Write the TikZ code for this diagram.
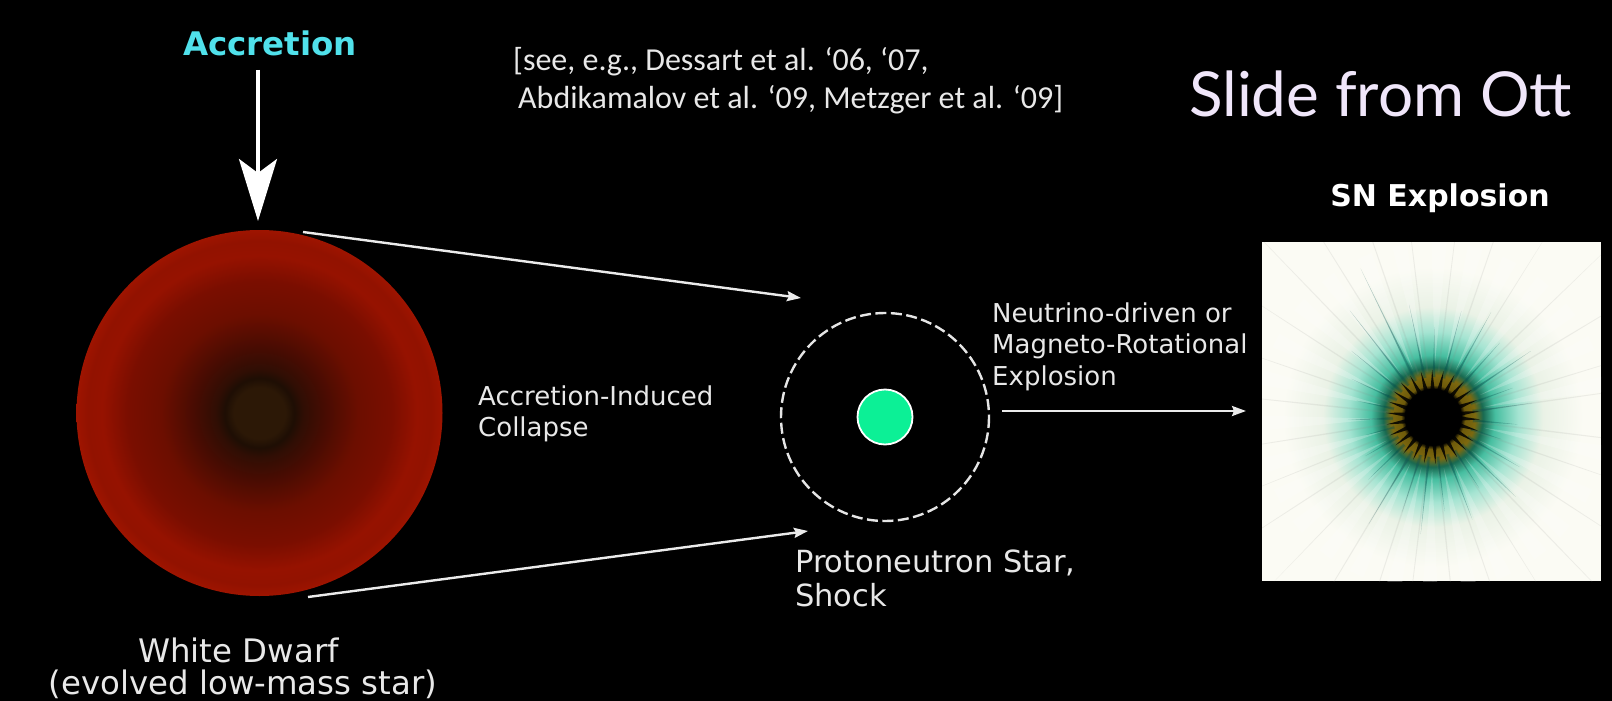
\documentclass[tikz,border=0pt]{standalone}
\usepackage{fontspec}
\setmainfont{DejaVu Sans}
\newfontfamily\citefont{Carlito}
\newfontfamily\slidefont{Lato}
\usetikzlibrary{arrows.meta,calc}

\definecolor{accretioncyan}{RGB}{80,225,235}
\definecolor{slidelilac}{RGB}{240,230,250}
\definecolor{labelgray}{RGB}{232,232,232}
\definecolor{pnsgreen}{RGB}{12,240,150}
\definecolor{snpaper}{RGB}{251,251,244}

% white dwarf rings
\definecolor{wd_a}{RGB}{44,24,6}
\definecolor{wd_b}{RGB}{30,14,4}
\definecolor{wd_c}{RGB}{48,14,4}
\definecolor{wd_d}{RGB}{72,12,2}
\definecolor{wd_e}{RGB}{108,14,0}
\definecolor{wd_f}{RGB}{122,14,0}
\definecolor{wd_g}{RGB}{150,18,0}
\definecolor{wd_h}{RGB}{146,18,0}
\definecolor{wd_i}{RGB}{158,20,0}
% supernova glow
\definecolor{sn_a}{RGB}{110,90,10}
\definecolor{sn_b}{RGB}{125,105,15}
\definecolor{sn_c}{RGB}{25,105,80}
\definecolor{sn_d}{RGB}{70,190,160}
\definecolor{sn_e}{RGB}{165,228,210}
\definecolor{sn_f}{RGB}{234,242,230}

\pgfdeclareradialshading{wdshade}{\pgfpointorigin}{
  color(0bp)=(wd_a);
  color(3.5bp)=(wd_a);
  color(4.75bp)=(wd_b);
  color(6bp)=(wd_c);
  color(9bp)=(wd_d);
  color(13.5bp)=(wd_e);
  color(18bp)=(wd_f);
  color(21.5bp)=(wd_g);
  color(23.5bp)=(wd_h);
  color(25bp)=(wd_i);
  color(50bp)=(wd_i)}
\pgfdeclareradialshading{snshade}{\pgfpointorigin}{
  color(0bp)=(black);
  color(4.27bp)=(black);
  color(4.9bp)=(sn_a);
  color(6.4bp)=(sn_b);
  color(7.6bp)=(sn_c);
  color(9.45bp)=(sn_d);
  color(13bp)=(sn_e);
  color(16.8bp)=(sn_f);
  color(22.9bp)=(snpaper);
  color(50bp)=(snpaper)}

\tikzset{
  label text/.style={text=labelgray,font=\fontsize{26}{26}\selectfont,anchor=west,inner sep=0},
  name text/.style={text=labelgray,font=\fontsize{32.4}{32.4}\selectfont,inner sep=0},
  pns text/.style={text=labelgray,font=\fontsize{30.5}{30.5}\selectfont,anchor=west,inner sep=0},
  cite text/.style={text=labelgray,font=\citefont\fontsize{32}{32}\selectfont,anchor=west,inner sep=0},
  big arrow/.style={draw=white,line width=3.6pt,-{Stealth[length=62pt,width=38pt,inset=14pt]}},
  thin arrow/.style={draw=white!92!black,line width=2.4pt,-{Stealth[length=14pt,width=10pt,inset=2pt]}},
}

\begin{document}
\begin{tikzpicture}[x=1pt,y=-1pt]
	\fill [black] (0,0) rectangle (1612,701);
	\useasboundingbox (0,0) rectangle (1612,701);

	% white dwarf
	\coordinate (wd_center) at (259.5,413);
	\shade [shading=wdshade] (wd_center) circle (183);
	\node [name text] (wd_name) at (238.5,650) {White Dwarf};
	\node [name text] (wd_note) at (243,684) {(evolved low-mass star)};

	% accretion
	\node [text=accretioncyan,font=\bfseries\fontsize{32.5}{32.5}\selectfont,inner sep=0] (accretion) at (270,43) {Accretion};
	\coordinate (acc_a) at (258,70);
	\coordinate (acc_b) at (258,221);
	\draw [big arrow] (acc_a) -- (acc_b);

	% references and slide credit
	\node [cite text] (cite_a) at (513,62) {[see, e.g., Dessart et al. ‘06, ‘07,};
	\node [cite text] (cite_b) at (518,100) {Abdikamalov et al. ‘09, Metzger et al. ‘09]};
	\node [text=slidelilac,font=\slidefont\fontsize{62}{62}\selectfont,anchor=west,inner sep=0] (credit) at (1189,94) {Slide from Ott};

	% collapse arrows
	\coordinate (top_a) at (303,232);
	\coordinate (top_b) at (801,298);
	\coordinate (bot_a) at (308,597);
	\coordinate (bot_b) at (808,531);
	\draw [thin arrow] (top_a) -- (top_b);
	\draw [thin arrow] (bot_a) -- (bot_b);
	\node [label text] (collapse_a) at (478,396) {Accretion-Induced};
	\node [label text] (collapse_b) at (478,429) {Collapse};

	% protoneutron star and shock
	\coordinate (pns_center) at (885,417);
	\draw [draw=white!90!black,line width=2.4pt,dash pattern=on 11pt off 4.5pt] (pns_center) circle (104);
	\fill [pnsgreen,draw=white,line width=1.8pt] (pns_center) circle (27.5);
	\node [pns text] (pns_a) at (795,563) {Protoneutron Star,};
	\node [pns text] (pns_b) at (795,595) {Shock};

	% explosion arrow
	\coordinate (exp_a) at (1002,411);
	\coordinate (exp_b) at (1246,411);
	\draw [thin arrow] (exp_a) -- (exp_b);
	\node [label text] (exp_l1) at (992,313) {Neutrino-driven or};
	\node [label text] (exp_l2) at (992,346) {Magneto-Rotational};
	\node [label text] (exp_l3) at (992,378) {Explosion};

	% supernova panel
	\node [text=white,font=\bfseries\fontsize{30}{30}\selectfont,inner sep=0] (sn_name) at (1440,198) {SN Explosion};
	\fill [snpaper] (1262,242) rectangle (1601,581);
	\begin{scope}
		\clip (1262,242) rectangle (1601,581);
		\coordinate (sn_center) at (1433,417);
		\shade [shading=snshade] (sn_center) circle (164);
		% light streaks widening outward
		\foreach \a in {12,27,41,52,66,78,91,103,116,128,141,153,164,178,193,206,220,233,247,259,272,284,296,309,322,335,349} {
			\fill [white,opacity=.22] ($(sn_center)+(\a:52)$) -- ($(sn_center)+(\a-2.5:175)$) -- ($(sn_center)+(\a+2.5:175)$) -- cycle;
		}
		% long faint streaks
		\foreach \a/\r in {7/300,19/230,33/270,46/300,58/220,71/260,84/300,97/240,108/280,121/300,134/240,147/270,158/220,171/260,186/280,199/230,213/250,226/300,238/300,251/320,263/260,277/240,289/280,302/220,316/260,329/300,343/240,352/270} {
			\fill [black!45!snpaper,opacity=.13] ($(sn_center)+(\a-1.2:45)$) -- ($(sn_center)+(\a+1.2:45)$) -- ($(sn_center)+(\a:\r)$) -- cycle;
		}
		% dark teal spokes near the core
		\foreach \a/\r in {5/85,18/72,30/100,44/115,57/85,69/110,83/95,96/118,108/100,121/125,136/90,150/78,165/70,178/85,192/78,205/90,219/105,232/135,244/165,258/115,271/90,285/110,299/120,312/100,326/118,340/85,352/100} {
			\fill [black!40!teal,opacity=.30] ($(sn_center)+(\a-1.6:40)$) -- ($(sn_center)+(\a+1.6:40)$) -- ($(sn_center)+(\a:\r)$) -- cycle;
			\fill [black!40!teal,opacity=.18] ($(sn_center)+(\a-3.2:40)$) -- ($(sn_center)+(\a+3.2:40)$) -- ($(sn_center)+(\a:\r*.65)$) -- cycle;
		}
		% core fringes
		\foreach \a in {3,17,...,353} {
			\fill [black,opacity=.85] ($(sn_center)+(\a-5:26)$) -- ($(sn_center)+(\a+5:26)$) -- ($(sn_center)+(\a:47)$) -- cycle;
		}
		\fill [black] (sn_center) circle (28);
	\end{scope}
\end{tikzpicture}
\end{document}
